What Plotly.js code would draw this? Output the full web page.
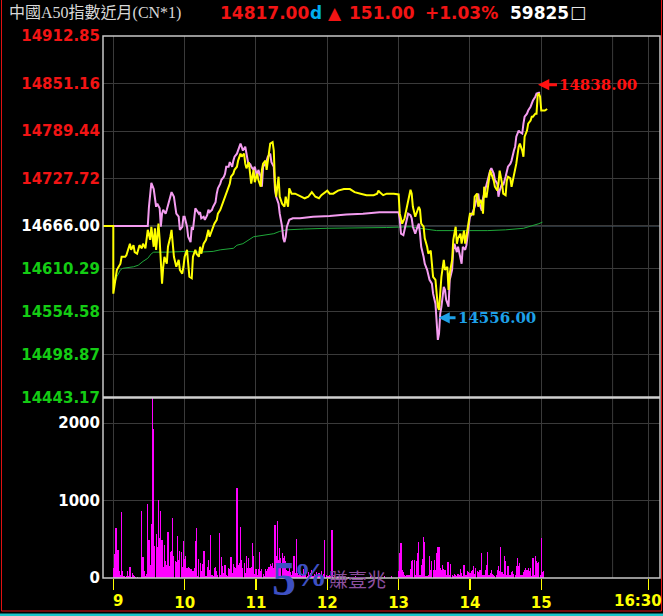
<!DOCTYPE html>
<html><head><meta charset="utf-8">
<script src="https://cdn.plot.ly/plotly-3.0.1.min.js"></script>
<style>html,body{margin:0;padding:0;background:#000;}#chart{width:663px;height:616px;}</style>
</head><body><div id="chart"></div>
<script>
// ---------------- DATA ----------------
const titleText = '中國A50指數近月(CN*1)';
const lastPrice = '14817.00';
const changeText = '151.00';
const changePct = '+1.03%';
const totalVolume = '59825';
const highLabel = '14838.00';
const lowLabel = '14556.00';
const highPoint = [358.5, 14838];   // [minutes after 9:00, price]
const lowPoint = [274, 14557];

const priceTicks = [14443.17, 14498.87, 14554.58, 14610.29, 14666.00, 14727.72, 14789.44, 14851.16, 14912.85];
const priceTickLabels = ['14443.17','14498.87','14554.58','14610.29','14666.00','14727.72','14789.44','14851.16','14912.85'];
const refPrice = 14666.00;
const volTicks = [0, 1000, 2000];
const volTickLabels = ['0', '1000', '2000'];
const hourTicks = [9, 10, 11, 12, 13, 14, 15, 16.5];
const hourTickLabels = ['9', '10', '11', '12', '13', '14', '15', '16:30'];

// futures last price (yellow): [minutes after 9:00, price]
const futures = [[-9,14666],[0,14666],[0,14578],[1,14591],[3,14609],[6,14617],[7,14626],[10,14626],[11,14628],[14,14643],[15,14635],[17,14641],[18,14632],[20,14630],[22,14641],[24,14637],[25,14643],[27,14637],[28,14648],[29,14661],[31,14648],[32,14665],[34,14639],[35,14663],[36,14635],[38,14669],[39,14648],[40,14617],[41,14591],[42,14613],[43,14626],[45,14617],[46,14639],[48,14652],[49,14661],[50,14643],[51,14626],[53,14613],[55,14622],[56,14609],[58,14604],[59,14613],[60,14626],[62,14635],[63,14617],[64,14600],[66,14598],[67,14626],[69,14635],[70,14630],[72,14626],[73,14639],[74,14630],[76,14643],[78,14648],[80,14661],[81,14652],[83,14661],[84,14665],[85,14669],[87,14674],[88,14682],[90,14687],[92,14695],[94,14704],[95,14708],[98,14721],[99,14730],[101,14734],[102,14739],[104,14743],[105,14751],[107,14760],[108,14756],[110,14760],[111,14747],[112,14741],[114,14749],[115,14734],[116,14721],[118,14739],[119,14723],[121,14734],[122,14726],[124,14717],[125,14739],[126,14747],[128,14751],[129,14739],[131,14764],[132,14773],[134,14775],[135,14764],[136,14721],[137,14704],[139,14730],[140,14704],[142,14695],[144,14691],[145,14704],[147,14691],[148,14715],[150,14708],[153,14708],[156,14706],[159,14704],[161,14702],[164,14704],[167,14710],[170,14704],[173,14702],[175,14706],[180,14712],[182,14708],[185,14708],[189,14712],[194,14714],[199,14714],[203,14710],[208,14708],[213,14706],[219,14706],[222,14708],[223,14712],[224,14710],[227,14706],[230,14708],[236,14708],[240,14707],[241,14682],[243,14669],[245,14676],[247,14691],[248,14700],[250,14713],[251,14708],[252,14691],[254,14678],[255,14682],[257,14691],[258,14687],[259,14669],[261,14665],[262,14650],[264,14639],[265,14630],[267,14634],[268,14617],[269,14600],[271,14596],[272,14578],[273,14561],[274,14557],[275,14583],[276,14600],[278,14622],[279,14609],[281,14613],[282,14583],[283,14604],[285,14622],[286,14648],[288,14665],[289,14643],[290,14650],[292,14656],[293,14643],[295,14660],[296,14643],[297,14652],[299,14672],[300,14682],[302,14682],[303,14680],[304,14704],[306,14708],[307,14691],[309,14700],[310,14695],[311,14682],[312,14717],[313,14704],[314,14704],[316,14725],[317,14738],[318,14734],[320,14725],[321,14717],[323,14712],[324,14721],[325,14738],[327,14721],[328,14708],[330,14706],[331,14725],[332,14730],[334,14728],[335,14717],[337,14734],[338,14738],[339,14747],[341,14769],[342,14773],[344,14764],[345,14756],[346,14782],[348,14790],[349,14799],[351,14803],[352,14808],[353,14808],[355,14812],[356,14812],[357,14836],[358,14838],[359,14834],[360,14816],[362,14816],[363,14816],[365,14818]];

// spot index (pink)
const indexLine = [[-9,14666],[29,14666],[30,14691],[31,14712],[32,14722],[34,14714],[35,14704],[36,14691],[37,14695],[39,14689],[40,14665],[41,14682],[42,14687],[44,14682],[45,14687],[46,14693],[48,14704],[49,14710],[51,14704],[52,14691],[53,14682],[55,14678],[56,14661],[58,14665],[59,14678],[60,14678],[62,14665],[63,14652],[65,14645],[66,14665],[67,14661],[69,14689],[70,14687],[72,14682],[73,14684],[74,14676],[76,14678],[77,14674],[79,14680],[80,14687],[81,14684],[83,14687],[84,14691],[86,14697],[87,14708],[88,14715],[90,14721],[91,14726],[93,14730],[94,14734],[95,14743],[97,14743],[98,14749],[100,14743],[101,14751],[102,14756],[104,14760],[105,14764],[107,14773],[108,14769],[109,14764],[111,14769],[112,14760],[114,14743],[115,14747],[116,14743],[118,14739],[119,14743],[121,14730],[122,14739],[124,14730],[125,14717],[126,14743],[128,14747],[129,14751],[130,14756],[132,14760],[133,14749],[135,14743],[136,14713],[137,14704],[139,14695],[140,14682],[142,14665],[143,14650],[144,14645],[145,14652],[146,14665],[148,14674],[151,14676],[157,14676],[168,14678],[182,14679],[196,14681],[210,14682],[224,14684],[240,14684],[241,14674],[242,14656],[244,14654],[245,14661],[247,14674],[248,14682],[250,14680],[251,14676],[252,14665],[254,14656],[255,14661],[257,14669],[258,14656],[259,14639],[261,14626],[262,14617],[264,14609],[265,14600],[266,14596],[268,14591],[269,14578],[271,14565],[272,14544],[273,14518],[274,14526],[275,14552],[276,14561],[278,14587],[279,14583],[280,14570],[282,14561],[283,14596],[285,14609],[286,14635],[287,14643],[289,14632],[290,14639],[292,14622],[293,14617],[294,14639],[296,14635],[297,14641],[299,14665],[300,14678],[302,14682],[303,14686],[304,14691],[306,14704],[307,14708],[308,14695],[310,14686],[311,14702],[314,14721],[317,14738],[318,14741],[320,14734],[321,14726],[323,14721],[324,14704],[325,14712],[327,14721],[328,14719],[330,14730],[331,14738],[332,14743],[334,14747],[335,14751],[337,14764],[338,14769],[339,14782],[341,14790],[342,14788],[344,14786],[345,14799],[346,14808],[348,14812],[349,14816],[351,14821],[352,14825],[353,14829],[355,14834],[356,14838],[358,14839],[359,14839]];

// average price (green)
const avgLine = [[1,14591],[3,14600],[6,14609],[8,14611],[17,14613],[21,14615],[25,14620],[29,14624],[32,14630],[34,14632],[45,14632],[62,14633],[73,14632],[84,14633],[90,14635],[101,14637],[104,14641],[109,14643],[118,14652],[129,14654],[135,14656],[140,14659],[146,14661],[160,14662],[180,14663],[230,14664],[250,14665],[258,14663],[268,14661],[272,14660],[315,14660],[330,14661],[345,14663],[352,14666],[358,14669],[361,14671]];

// volume per minute, index 0 = 9:00
const volume = [
130,310,640,645,365,85,40,850,95,20,
10,30,95,30,145,10,65,40,30,15,
10,5,0,0,870,275,95,20,50,960,
490,170,700,2322,1926,410,570,395,1010,515,
870,495,140,430,225,170,600,150,330,355,
780,290,215,205,540,235,355,335,140,475,
250,280,130,140,130,120,110,85,130,480,
645,20,250,195,85,180,355,355,20,140,
235,105,560,40,20,130,140,85,40,580,
40,275,
150,64,171,43,30,129,120,270,64,184,
141,129,1160,171,193,657,236,129,193,64,
288,129,253,129,137,451,288,47,116,38,
116,335,86,116,51,21,116,86,116,137,
184,150,193,129,688,279,730,236,387,258,
322,258,279,215,107,86,150,73,43,86,
279,64,503,
60,40,90,30,50,120,40,70,30,80,40,60,100,30,50,40,80,30,60,40,90,30,50,
494,40,30,20,40,20,614,
0,20,0,0,15,0,0,0,20,0,0,0,0,15,0,0,0,0,0,20,0,0,0,0,0,15,0,0,0,0,0,20,0,0,0,0,0,15,0,0,0,0,0,20,0,0,0,0,0,30,0,0,0,0,
0,85,322,451,107,81,43,30,38,43,
38,116,214,227,236,43,214,322,464,43,
171,245,528,468,30,30,34,288,98,223,
107,227,107,318,400,400,128,107,171,116,
107,34,210,210,43,184,43,21,51,34,
30,55,34,116,64,30,171,43,43,94,
73,64,94,107,158,55,128,85,73,107,
107,322,43,43,107,171,331,43,64,107,
55,43,30,43,107,158,85,395,73,55,
279,214,43,150,43,43,73,94,55,43,
150,258,150,193,43,43,73,107,128,107,
128,85,124,30,258,43,279,214,193,211,
43,516,77,85];

// ---------------- LAYOUT HELPERS ----------------
const L = 103, R = 660, T = 36, B = 578, SEP = 397.5;
const px = x => (x - L) / (R - L);
const py = y => (B - y) / (B - T);
const hr = m => 9 + m / 60;
const splitDomain = py(SEP);

const RED = '#f21414', GREEN = '#14cc14', WHITE = '#ffffff', YEL = '#ffff00';
const GRID = '#3a3a3a';

const priceTickText = priceTicks.map((v, i) => {
  const c = v > refPrice ? RED : (v < refPrice ? GREEN : WHITE);
  return '<span style="color:' + c + '">' + priceTickLabels[i] + '</span>';
});
const hourTickText = hourTickLabels.map((s, i) => (i === 0 || i === hourTickLabels.length - 1) ? '' : s);

// ---------------- TRACES ----------------
const traces = [
  { type: 'bar', x: volume.map((v, i) => hr(i)), y: volume, xaxis: 'x', yaxis: 'y2',
    width: 0.95 / 60, marker: { color: '#ff00ff', line: { width: 0 } }, hoverinfo: 'skip' },
  { type: 'scatter', mode: 'lines', x: avgLine.map(p => hr(p[0])), y: avgLine.map(p => p[1]),
    line: { color: '#1fa83a', width: 1 }, hoverinfo: 'skip' },
  { type: 'scatter', mode: 'lines', x: indexLine.map(p => hr(p[0])), y: indexLine.map(p => p[1]),
    line: { color: '#f49cf0', width: 2 }, hoverinfo: 'skip' },
  { type: 'scatter', mode: 'lines', x: futures.map(p => hr(p[0])), y: futures.map(p => p[1]),
    line: { color: YEL, width: 2 }, hoverinfo: 'skip' }
];

// ---------------- ANNOTATIONS ----------------
function txt(text, x, y, opts) {
  return Object.assign({ text: text, xref: 'paper', yref: 'paper', x: px(x), y: py(y),
    xanchor: 'left', yanchor: 'middle', showarrow: false,
    font: { family: 'DejaVu Sans', size: 17, color: WHITE, weight: 'bold' } }, opts || {});
}
const hdrY = 12.5;
const annotations = [
  txt(titleText, 7, hdrY, { font: { family: 'Liberation Serif, Noto Sans CJK TC', size: 16, color: '#d8d8d8' } }),
  txt(lastPrice, 217.5, hdrY, { font: { family: 'DejaVu Sans', size: 17, color: RED, weight: 'bold' } }),
  txt('d', 307.5, hdrY, { font: { family: 'DejaVu Sans', size: 17, color: '#00aeef', weight: 'bold' } }),
  txt('▲', 326, hdrY, { font: { family: 'DejaVu Sans', size: 17, color: RED, weight: 'bold' } }),
  txt(changeText, 346.5, hdrY, { font: { family: 'DejaVu Sans', size: 17, color: RED, weight: 'bold' } }),
  txt(changePct, 422.5, hdrY, { font: { family: 'DejaVu Sans', size: 17, color: RED, weight: 'bold' } }),
  txt(totalVolume, 508, hdrY, { font: { family: 'DejaVu Sans', size: 17, color: WHITE, weight: 'bold' } }),
  txt('□', 568, hdrY - 1, { font: { family: 'DejaVu Sans', size: 17, color: '#e8e8e8' } }),
  // x labels at the ends
  txt(hourTickLabels[0], 118, 600.5, { xanchor: 'center', font: { family: 'DejaVu Sans', size: 15, color: YEL, weight: 'bold' } }),
  txt(hourTickLabels[hourTickLabels.length - 1], 638, 600.5, { xanchor: 'center', font: { family: 'DejaVu Sans', size: 15, color: YEL, weight: 'bold' } }),
  // watermark
  txt('5', 284, 578, { xanchor: 'center', font: { family: 'Liberation Serif', size: 48, color: '#3e50c2', weight: 'bold' } }),
  txt('%', 310, 575, { xanchor: 'center', font: { family: 'Liberation Serif', size: 33, color: '#3e50c2', weight: 'bold' } }),
  txt('賺壹兆', 327, 578, { font: { family: 'Noto Sans CJK TC', size: 19, color: '#8c4f9e' } }),
  // high / low markers
  { xref: 'x', yref: 'y', x: hr(highPoint[0]), y: highPoint[1], yshift: 9, xshift: -1.5,
    text: highLabel, showarrow: true, ax: 19, ay: 0, xanchor: 'left',
    arrowhead: 2, arrowsize: 0.75, arrowwidth: 3, arrowcolor: '#ff1010',
    font: { family: 'DejaVu Serif', size: 15, color: '#ff1010', weight: 'bold' } },
  { xref: 'x', yref: 'y', x: hr(lowPoint[0]), y: lowPoint[1], yshift: -8, xshift: -0.5,
    text: lowLabel, showarrow: true, ax: 17, ay: 0, xanchor: 'left',
    arrowhead: 2, arrowsize: 0.75, arrowwidth: 3, arrowcolor: '#1ea0e8',
    font: { family: 'DejaVu Serif', size: 15, color: '#1ea0e8', weight: 'bold' } }
];

// ---------------- SHAPES ----------------
const shapes = [
  { type: 'line', xref: 'x', yref: 'paper', x0: 16, x1: 16, y0: 0, y1: 1, line: { color: GRID, width: 1 }, layer: 'below' },
  { type: 'line', xref: 'paper', yref: 'y', x0: 0, x1: 1, y0: refPrice, y1: refPrice, line: { color: '#56687a', width: 1 }, layer: 'between' },
  { type: 'rect', xref: 'paper', yref: 'paper', x0: 0, x1: 1, y0: 0, y1: 1, line: { color: '#c8c8c8', width: 1.5 }, layer: 'above' },
  { type: 'line', xref: 'paper', yref: 'paper', x0: 0, x1: 1, y0: splitDomain, y1: splitDomain, line: { color: '#d0d0d0', width: 2.5 }, layer: 'above' },
  { type: 'line', xref: 'paper', yref: 'paper', x0: px(1.5), x1: px(1.5), y0: py(0), y1: py(611), line: { color: '#e01010', width: 1 } },
  { type: 'line', xref: 'paper', yref: 'paper', x0: px(661.5), x1: px(661.5), y0: py(0), y1: py(611), line: { color: '#e01010', width: 1 } },
  { type: 'line', xref: 'paper', yref: 'paper', x0: px(1.5), x1: px(661.5), y0: py(611), y1: py(611), line: { color: '#e01010', width: 1 } },
  { type: 'line', xref: 'paper', yref: 'paper', x0: px(0), x1: px(663), y0: py(614.8), y1: py(614.8), line: { color: '#18c4c8', width: 2.5 } }
];

const layout = {
  width: 663, height: 616,
  margin: { l: L, r: 663 - R, t: T, b: 616 - B, pad: 0 },
  paper_bgcolor: '#000000', plot_bgcolor: '#000000',
  showlegend: false, bargap: 0,
  font: { family: 'DejaVu Sans', color: WHITE },
  xaxis: { range: [8.8556, 16.6646], anchor: 'y2', tickmode: 'array', tickvals: hourTicks, ticktext: hourTickText,
    ticks: 'outside', ticklen: 11, tickwidth: 1.5, tickcolor: YEL,
    tickfont: { family: 'DejaVu Sans', size: 15, color: YEL, weight: 'bold' },
    showgrid: true, gridcolor: GRID, gridwidth: 1, zeroline: false, showline: false, fixedrange: true },
  yaxis: { domain: [splitDomain, 1], range: [14443.1, 14912.9], tickmode: 'array', tickvals: priceTicks, ticktext: priceTickText,
    ticks: '', tickfont: { family: 'DejaVu Sans', size: 15, color: WHITE, weight: 'bold' }, ticklabelstandoff: 2,
    showgrid: true, gridcolor: GRID, gridwidth: 1, zeroline: false, showline: false, fixedrange: true },
  yaxis2: { domain: [0, splitDomain], range: [0, 2330], tickmode: 'array', tickvals: volTicks, ticktext: volTickLabels,
    ticks: '', tickfont: { family: 'DejaVu Sans', size: 15, color: WHITE, weight: 'bold' }, ticklabelstandoff: 2,
    showgrid: true, gridcolor: GRID, gridwidth: 1, zeroline: false, showline: false, fixedrange: true },
  annotations: annotations,
  shapes: shapes
};

Plotly.newPlot('chart', traces, layout, { staticPlot: true, displayModeBar: false });
</script>
</body></html>
